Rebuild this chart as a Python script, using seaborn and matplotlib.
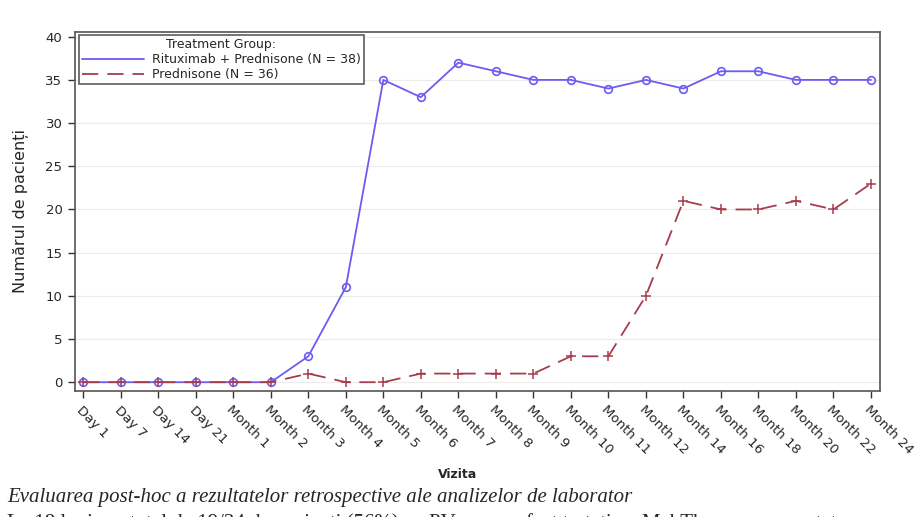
import pandas as pd
import matplotlib.pyplot as plt
import seaborn as sns
from matplotlib.lines import Line2D

visits = ['Day 1', 'Day 7', 'Day 14', 'Day 21', 'Month 1', 'Month 2', 'Month 3',
          'Month 4', 'Month 5', 'Month 6', 'Month 7', 'Month 8', 'Month 9',
          'Month 10', 'Month 11', 'Month 12', 'Month 14', 'Month 16', 'Month 18',
          'Month 20', 'Month 22', 'Month 24']
rituximab = [0, 0, 0, 0, 0, 0, 3, 11, 35, 33, 37, 36, 35, 35, 34, 35, 34, 36, 36, 35, 35, 35]
prednisone = [0, 0, 0, 0, 0, 0, 1, 0, 0, 1, 1, 1, 1, 3, 3, 10, 21, 20, 20, 21, 20, 23]
groups = ['Rituximab + Prednisone (N = 38)', 'Prednisone (N = 36)']

sns.set_theme(style="white")
plt.rcParams['font.family'] = ['DejaVu Sans']

fig = plt.figure(figsize=(9.2, 5.17), dpi=100)
ax = fig.add_axes([0.0815, 0.244, 0.875, 0.695])

pos = list(range(len(visits)))
blue = '#6c5cf2'
red = '#a63d4e'

sns.lineplot(x=pos, y=rituximab, ax=ax, color=blue, lw=1.3, marker='o',
             markersize=5.5, markerfacecolor='none', markeredgecolor=blue,
             markeredgewidth=1.2, legend=False)
sns.lineplot(x=pos, y=prednisone, ax=ax, color=red, lw=1.3, marker='+',
             markersize=6.5, markeredgecolor=red, markeredgewidth=1.1,
             dashes=(9, 5), legend=False)

ax.set_xlim(-0.22, 21.24)
ax.set_ylim(-1, 40.6)
ax.set_yticks(range(0, 41, 5))
ax.set_xticks(pos)
ax.set_xticklabels(visits, rotation=-45, ha='left', rotation_mode='anchor', fontsize=9.5)
ax.tick_params(axis='y', labelsize=9.5)
ax.tick_params(axis='both', direction='out', length=5, width=1, color='#333333',
               bottom=True, left=True, pad=4)
ax.yaxis.grid(True, color='#ececec', lw=0.8)
ax.set_axisbelow(True)
for s in ax.spines.values():
    s.set_color('#555555')
    s.set_linewidth(1.2)

ax.set_ylabel('Numărul de pacienți', fontsize=11.5, labelpad=12)
ax.set_xlabel('Vizita', fontsize=9, fontweight='bold')
ax.xaxis.set_label_coords(0.475, -0.215)

handles = [Line2D([], [], color=blue, lw=1.3),
           Line2D([], [], color=red, lw=1.3, dashes=(9, 5))]
leg = ax.legend(handles, groups, loc='upper left', title='Treatment Group:',
                fontsize=9, title_fontsize=9, frameon=True, fancybox=False,
                borderaxespad=0.3, handlelength=5.0, borderpad=0.25,
                labelspacing=0.15, handletextpad=0.6)
leg.get_frame().set_edgecolor('#333333')
leg.get_frame().set_linewidth(1.2)

fig.text(0.008, 0.038, 'Evaluarea post-hoc a rezultatelor retrospective ale analizelor de laborator',
         family='Liberation Serif', style='italic', fontsize=15, va='center')
fig.text(0.008, -0.012, 'La 18 luni, un total de 19/34 de pacienți (56%) cu PV care au fost tratați cu MabThera au prezentat',
         family='Liberation Serif', fontsize=15, va='center')

plt.savefig('out.png', dpi=100)
